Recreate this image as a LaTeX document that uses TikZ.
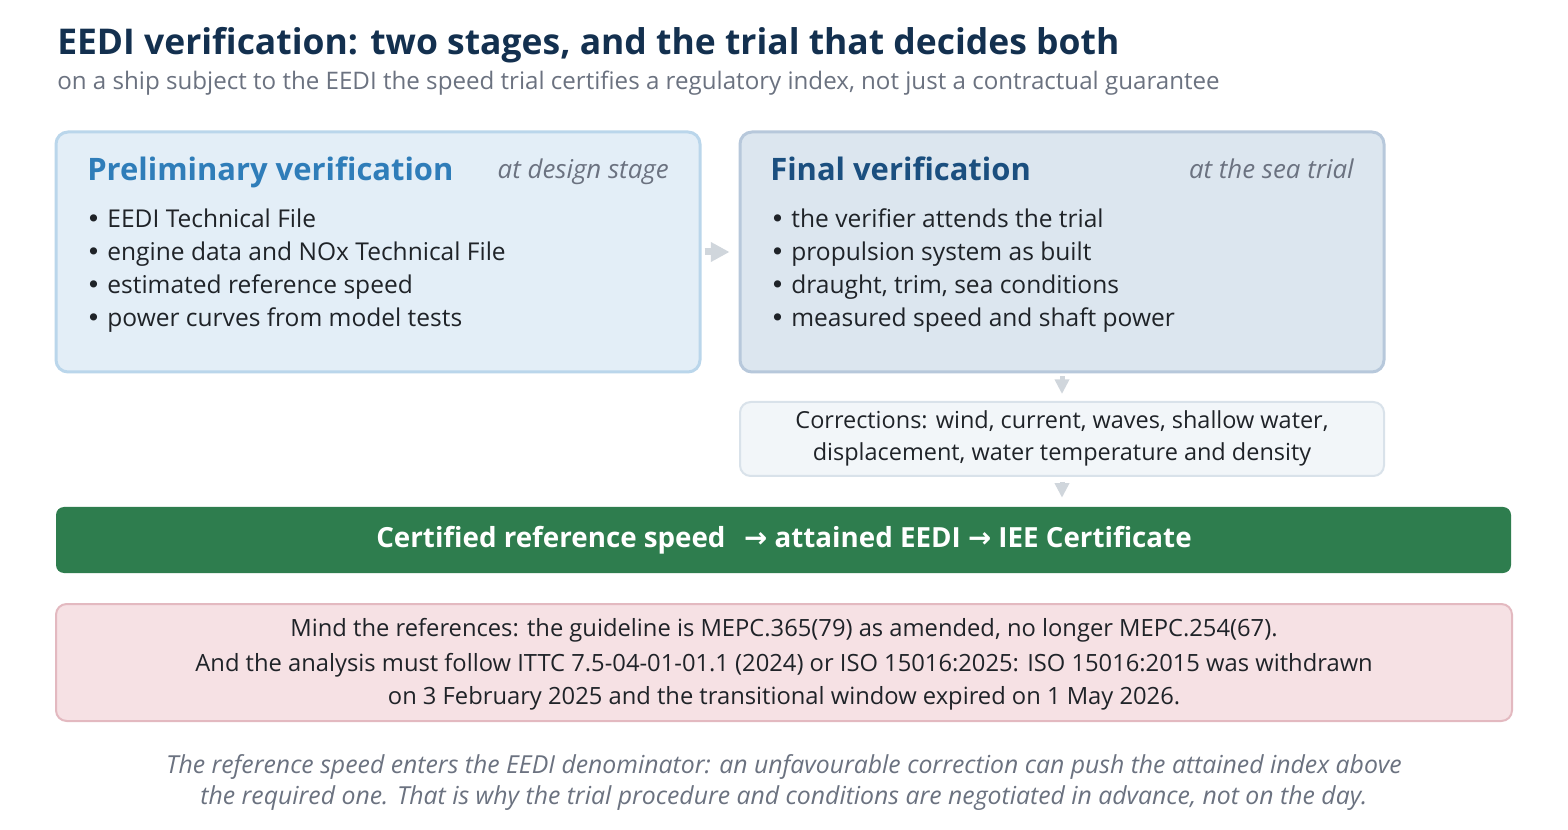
\documentclass[tikz,border=0pt]{standalone}
\usepackage{fontspec}
\setmainfont{Open Sans}
\newfontfamily\arrowfont{DejaVu Sans}
\usetikzlibrary{arrows.meta}
\definecolor{titlec}{HTML}{13304F}
\definecolor{subc}{HTML}{6B7280}
\definecolor{boxAf}{HTML}{E3EEF7}
\definecolor{boxAd}{HTML}{BAD6EB}
\definecolor{headA}{HTML}{2F7DB9}
\definecolor{boxBf}{HTML}{DCE6EF}
\definecolor{boxBd}{HTML}{B7C8DB}
\definecolor{headB}{HTML}{1B4F7F}
\definecolor{bodyc}{HTML}{1F2328}
\definecolor{corrf}{HTML}{F2F6F9}
\definecolor{corrd}{HTML}{D9E2EA}
\definecolor{greenc}{HTML}{2E7D4E}
\definecolor{pinkf}{HTML}{F6E1E4}
\definecolor{pinkd}{HTML}{E3B9C0}
\definecolor{arrc}{HTML}{D0D6DC}
\newcommand{\bul}{{\arrowfont •}\hspace{5pt}}
\tikzset{
  panel/.style={rounded corners=9pt, line width=2.25pt, minimum width=483pt, minimum height=180pt, inner sep=0pt},
  txt/.style={inner sep=0pt, anchor=base west, text=bodyc, font=\fontsize{18.4}{22}\selectfont},
  ctxt/.style={inner sep=0pt, anchor=base, text=bodyc, font=\fontsize{17.8}{22}\selectfont},
  headtxt/.style={inner sep=0pt, anchor=base west, font=\fontsize{23.2}{28}\selectfont\bfseries},
  tagtxt/.style={inner sep=0pt, anchor=base east, text=subc, font=\fontsize{19.4}{22}\selectfont\itshape},
  foottxt/.style={inner sep=0pt, anchor=base, text=subc, font=\fontsize{18.6}{22}\selectfont\itshape},
  conn/.style={draw=arrc, line width=3.75pt, -{Triangle[length=11pt,width=10.5pt]}},
}
\begin{document}
\begin{tikzpicture}[x=0.75pt,y=-0.75pt]
\useasboundingbox (0,0) rectangle (1568,830);
\fill[white] (0,0) rectangle (1568,830);
% title
\node[inner sep=0pt, anchor=base west, text=titlec, font=\fontsize{26.6}{32}\selectfont\bfseries] (title) at (57,55) {EEDI verification: two stages, and the trial that decides both};
\node[inner sep=0pt, anchor=base west, text=subc, font=\fontsize{18.1}{22}\selectfont] (subtitle) at (57,90) {on a ship subject to the EEDI the speed trial certifies a regulatory index, not just a contractual guarantee};
% panels
\node[panel, fill=boxAf, draw=boxAd] (prelim) at (378,252) {};
\node[panel, fill=boxBf, draw=boxBd] (final) at (1062,252) {};
\node[headtxt, text=headA] (h1) at (87,181) {Preliminary verification};
\node[tagtxt] (t1) at (669,179) {at design stage};
\node[headtxt, text=headB] (h2) at (770,181) {Final verification};
\node[tagtxt] (t2) at (1354,179) {at the sea trial};
\foreach \t [count=\i from 0] in {EEDI Technical File, engine data and NOx Technical File, estimated reference speed, power curves from model tests}{
  \node[txt] (pa\i) at (86,228+33*\i) {\bul\t};
}
\foreach \t [count=\i from 0] in {the verifier attends the trial, propulsion system as built, {draught, trim, sea conditions}, measured speed and shaft power}{
  \node[txt] (pb\i) at (770,228+33*\i) {\bul\t};
}
% corrections
\node[rounded corners=8pt, line width=1.5pt, fill=corrf, draw=corrd, minimum width=483pt, minimum height=55.5pt, inner sep=0pt] (corr) at (1062,439) {};
\node[ctxt, font=\fontsize{17.6}{22}\selectfont] (c1) at (1062,429) {Corrections: wind, current, waves, shallow water,};
\node[ctxt, font=\fontsize{17.6}{22}\selectfont] (c2) at (1062,461) {displacement, water temperature and density};
% green bar
\node[rounded corners=6pt, fill=greenc, minimum width=1091.25pt, minimum height=49.5pt, inner sep=0pt] (cert) at (783.5,540) {};
\node[inner sep=0pt, anchor=base, text=white, font=\fontsize{20.8}{24}\selectfont\bfseries] (certt) at (784,547) {Certified reference speed\hspace{14pt}{\arrowfont\bfseries →} attained EEDI {\arrowfont\bfseries →} IEE Certificate};
% pink note
\node[rounded corners=8pt, line width=1.5pt, fill=pinkf, draw=pinkd, minimum width=1092pt, minimum height=87.75pt, inner sep=0pt] (note) at (784,662.5) {};
\node[ctxt] (n1) at (784,636) {Mind the references: the guideline is MEPC.365(79) as amended, no longer MEPC.254(67).};
\node[ctxt] (n2) at (784,671) {And the analysis must follow ITTC 7.5-04-01-01.1 (2024) or ISO 15016:2025: ISO 15016:2015 was withdrawn};
\node[ctxt] (n3) at (784,704) {on 3 February 2025 and the transitional window expired on 1 May 2026.};
% footer
\node[foottxt] (f1) at (784,773) {The reference speed enters the EEDI denominator: an unfavourable correction can push the attained index above};
\node[foottxt] (f2) at (784,804) {the required one. That is why the trial procedure and conditions are negotiated in advance, not on the day.};
% connectors
\draw[conn, line width=5.25pt, -{Triangle[length=14pt,width=14pt]}, shorten <=2.25pt, shorten >=6.75pt] (prelim.east) -- (final.west);
\draw[conn, shorten <=2.25pt, shorten >=5.25pt] (final.south) -- (corr.north);
\draw[conn, shorten <=3.75pt, shorten >=6.75pt] (corr.south) -- (corr.south |- cert.north);
\end{tikzpicture}
\end{document}
